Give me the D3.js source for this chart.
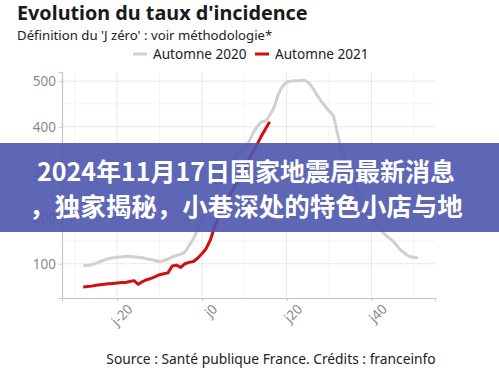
<!DOCTYPE html>
<html>
<head>
<meta charset="utf-8">
<script src="https://cdn.jsdelivr.net/npm/d3@7"></script>
<style>
  body { margin: 0; background: #fff; }
  svg { display: block; font-family: "Noto Sans", sans-serif; }
</style>
</head>
<body>
<div id="chart"></div>
<script>
// Days relative to "J zero"
const days2020 = d3.range(-28, 52);
const days2021 = d3.range(-28, 17);

// Automne 2020 (grey)
const values2020 = [96, 96, 98, 101, 105, 108, 111, 113, 114, 115,
                    116, 116, 115, 114, 113, 111, 109, 107, 105, 107,
                    110, 115, 118, 121, 126, 140, 155, 175, 195, 215,
                    235, 255, 275, 295, 300, 318, 333, 345, 356, 366,
                    385, 400, 410, 413, 425, 442, 470, 488, 497, 500,
                    501, 501, 502, 498, 487, 472, 458, 446, 435, 424,
                    385, 350, 325, 300, 275, 253, 233, 215, 200, 187,
                    176, 166, 158, 150, 140, 129, 122, 116, 114, 113];

// Automne 2021 (red)
const values2021 = [49, 50, 51, 53, 54, 55, 56, 57, 58, 59,
                    59, 61, 63, 55, 61, 65, 68, 72, 76, 78,
                    80, 95, 97, 92, 100, 103, 105, 112, 122, 133,
                    152, 181, 203, 221, 239, 256, 274, 291, 309, 327,
                    345, 361, 379, 395, 411];

const yTicks = [100, 200, 300, 400, 500];
const yMinor = [150, 250, 350, 450];
const xTicks = [-20, 0, 20, 40];
const xMinor = [-30, -10, 10, 30, 50];

const seriesNames = ["Automne 2020", "Automne 2021"];
const seriesColors = ["#d0d0d0", "#d10f0f"];

const bannerLines = ["2024年11月17日国家地震局最新消息", "，独家揭秘，小巷深处的特色小店与地"];

const W = 499, H = 377;
const margin = { top: 72, right: 64, bottom: 79, left: 62 },
      width = W - margin.left - margin.right,
      height = H - margin.top - margin.bottom;

const svg = d3.select("#chart")
              .append("svg")
              .attr("width", W)
              .attr("height", H);

// Title and subtitle
svg.append("text")
   .attr("x", 17).attr("y", 20)
   .attr("font-size", 19.8).attr("font-weight", 700).attr("fill", "#1a1a1a")
   .text("Evolution du taux d'incidence");
svg.append("text")
   .attr("x", 17).attr("y", 40)
   .attr("font-size", 13.2).attr("fill", "#222")
   .text("Définition du 'J zéro' : voir méthodologie*");

// Legend
const legend = svg.append("g").attr("transform", "translate(133,54)");
const legendX = [0, 122];
seriesNames.forEach((name, i) => {
    legend.append("line")
          .attr("x1", legendX[i]).attr("x2", legendX[i] + 14)
          .attr("y1", 0).attr("y2", 0)
          .attr("stroke", seriesColors[i]).attr("stroke-width", 3);
    legend.append("text")
          .attr("x", legendX[i] + 20).attr("y", 5)
          .attr("font-size", 13.6).attr("fill", "#222")
          .text(name);
});

const g = svg.append("g")
             .attr("transform", `translate(${margin.left},${margin.top})`);

const x = d3.scaleLinear().domain([-33, 55]).range([0, width]);
const y = d3.scaleLinear().domain([25, 520]).range([height, 0]);

// Grid
g.selectAll(".gy-minor").data(yMinor).enter().append("line")
 .attr("x1", 0).attr("x2", width)
 .attr("y1", d => y(d)).attr("y2", d => y(d))
 .attr("stroke", "#f3f3f3");
g.selectAll(".gx-minor").data(xMinor).enter().append("line")
 .attr("y1", 0).attr("y2", height)
 .attr("x1", d => x(d)).attr("x2", d => x(d))
 .attr("stroke", "#f3f3f3");
g.selectAll(".gy").data(yTicks).enter().append("line")
 .attr("x1", 0).attr("x2", width)
 .attr("y1", d => y(d)).attr("y2", d => y(d))
 .attr("stroke", "#e8e8e8");
g.selectAll(".gx").data(xTicks).enter().append("line")
 .attr("y1", 0).attr("y2", height)
 .attr("x1", d => x(d)).attr("x2", d => x(d))
 .attr("stroke", "#e8e8e8");

// Axes
const yAxis = g.append("g")
               .call(d3.axisLeft(y).tickValues(yTicks).tickSize(3).tickPadding(3));
const xAxis = g.append("g")
               .attr("transform", `translate(0,${height})`)
               .call(d3.axisBottom(x).tickValues(xTicks).tickSize(3).tickFormat(d => "j" + d));
[yAxis, xAxis].forEach(a => {
    a.select(".domain").attr("stroke", "#c4c4c4").attr("stroke-width", 1.2);
    a.selectAll(".tick line").attr("stroke", "#c4c4c4");
    a.selectAll("text").attr("fill", "#8a8a8a").attr("font-size", 13.5)
     .attr("font-family", "Noto Sans, sans-serif");
});
xAxis.selectAll("text")
     .attr("transform", "translate(6,2)rotate(-45)")
     .style("text-anchor", "end")
     .attr("dy", "0.6em");

// Lines
const line = d3.line()
               .x(d => x(d[0]))
               .y(d => y(d[1]))
               .curve(d3.curveMonotoneX);

g.append("path")
 .datum(days2020.map((d, i) => [d, values2020[i]]))
 .attr("fill", "none").attr("stroke", seriesColors[0]).attr("stroke-width", 3)
 .attr("stroke-linejoin", "round")
 .attr("d", line);

g.append("path")
 .datum(days2021.map((d, i) => [d, values2021[i]]))
 .attr("fill", "none").attr("stroke", seriesColors[1]).attr("stroke-width", 3)
 .attr("stroke-linejoin", "round")
 .attr("d", line.curve(d3.curveLinear));

// Source
svg.append("text")
   .attr("x", 271).attr("y", 364)
   .attr("text-anchor", "middle")
   .attr("font-size", 13.8).attr("fill", "#222")
   .text("Source : Santé publique France. Crédits : franceinfo");

// Overlay banner (covers part of the chart, as in the original)
svg.append("rect")
   .attr("x", 0).attr("y", 143)
   .attr("width", W).attr("height", 89)
   .attr("fill", "#4d55ae").attr("opacity", 0.9);
bannerLines.forEach((t, i) => {
    svg.append("text")
       .attr("x", 246).attr("y", 181 + i * 35)
       .attr("text-anchor", "middle")
       .attr("font-family", "Noto Sans CJK SC, sans-serif")
       .attr("font-size", i === 0 ? 25 : 25.5).attr("font-weight", 700)
       .attr("fill", "#fff")
       .text(t);
});
</script>
</body>
</html>
